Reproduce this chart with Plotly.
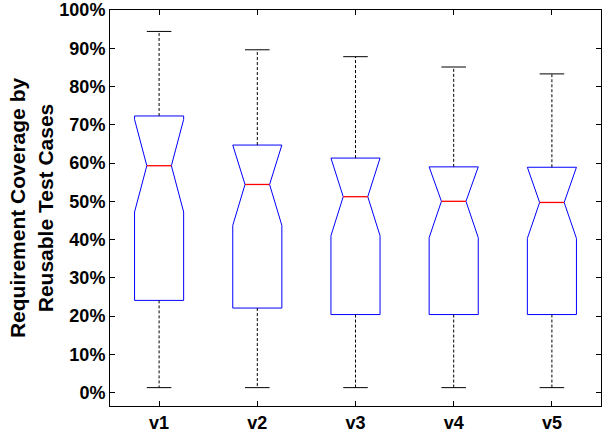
import plotly.graph_objects as go

# ---- data (percent) ----
categories = ["v1", "v2", "v3", "v4", "v5"]
whisker_lo = [1.3, 1.3, 1.3, 1.3, 1.3]
q1 = [24.1, 22.1, 20.4, 20.4, 20.4]
notch_lo = [47.2, 43.7, 41.0, 40.5, 40.3]
median = [59.3, 54.4, 51.2, 50.0, 49.7]
q3 = [72.3, 64.7, 61.3, 59.0, 58.9]
whisker_hi = [94.4, 89.6, 87.8, 85.1, 83.3]
ytick_vals = [0, 10, 20, 30, 40, 50, 60, 70, 80, 90, 100]
ytick_text = ["0%", "10%", "20%", "30%", "40%", "50%", "60%", "70%", "80%", "90%", "100%"]

BOX_HALF = 0.25
NOTCH_HALF = 0.125
CAP_HALF = 0.125

fig = go.Figure()

positions = list(range(1, len(categories) + 1))

for i, p in enumerate(positions):
    span = median[i] - notch_lo[i]
    n_hi = min(median[i] + span, q3[i])
    n_lo = notch_lo[i]
    # notched box outline
    bx = [p - BOX_HALF, p - BOX_HALF, p - NOTCH_HALF, p - BOX_HALF, p - BOX_HALF,
          p + BOX_HALF, p + BOX_HALF, p + NOTCH_HALF, p + BOX_HALF, p + BOX_HALF, p - BOX_HALF]
    by = [q1[i], n_lo, median[i], n_hi, q3[i],
          q3[i], n_hi, median[i], n_lo, q1[i], q1[i]]
    fig.add_trace(go.Scatter(x=bx, y=by, mode="lines",
                             line=dict(color="#0000FF", width=1),
                             hoverinfo="skip", showlegend=False))
    # median
    fig.add_trace(go.Scatter(x=[p - NOTCH_HALF, p + NOTCH_HALF], y=[median[i], median[i]],
                             mode="lines", line=dict(color="#FF0000", width=1.3),
                             hoverinfo="skip", showlegend=False))
    # whiskers (dashed)
    fig.add_trace(go.Scatter(x=[p, p, None, p, p],
                             y=[q3[i], whisker_hi[i], None, q1[i], whisker_lo[i]],
                             mode="lines", line=dict(color="black", width=1, dash="3px,2px"),
                             hoverinfo="skip", showlegend=False))
    # caps
    fig.add_trace(go.Scatter(x=[p - CAP_HALF, p + CAP_HALF, None, p - CAP_HALF, p + CAP_HALF],
                             y=[whisker_hi[i], whisker_hi[i], None, whisker_lo[i], whisker_lo[i]],
                             mode="lines", line=dict(color="black", width=1),
                             hoverinfo="skip", showlegend=False))

fig.update_layout(
    width=602, height=434,
    margin=dict(l=110, r=1, t=10, b=28, autoexpand=False),
    paper_bgcolor="white", plot_bgcolor="white",
    font=dict(family="Liberation Sans, Arial, sans-serif", color="black"),
    showlegend=False,
)
fig.update_xaxes(
    range=[0.5, 5.5], automargin=False,
    tickvals=positions, ticktext=[f"<b>{c}</b>" for c in categories],
    tickfont=dict(size=18),
    ticks="inside", ticklen=5, tickcolor="black",
    showline=True, linecolor="black", linewidth=1, mirror="ticks",
    showgrid=False, zeroline=False,
)
fig.update_yaxes(
    range=[-3.5, 100], automargin=False,
    tickvals=ytick_vals, ticktext=[f"<b>{t}</b>" for t in ytick_text],
    tickfont=dict(size=18), ticklabeloverflow="allow",
    ticks="inside", ticklen=5, tickcolor="black",
    showline=True, linecolor="black", linewidth=1, mirror="ticks",
    showgrid=False, zeroline=False,
    title=dict(text="<b>Requirement Coverage by<br>Reusable Test Cases</b>",
               font=dict(size=21), standoff=0),
)

fig.write_html("out.html", config={"displayModeBar": False},
               post_script="document.body.style.margin='0';")
